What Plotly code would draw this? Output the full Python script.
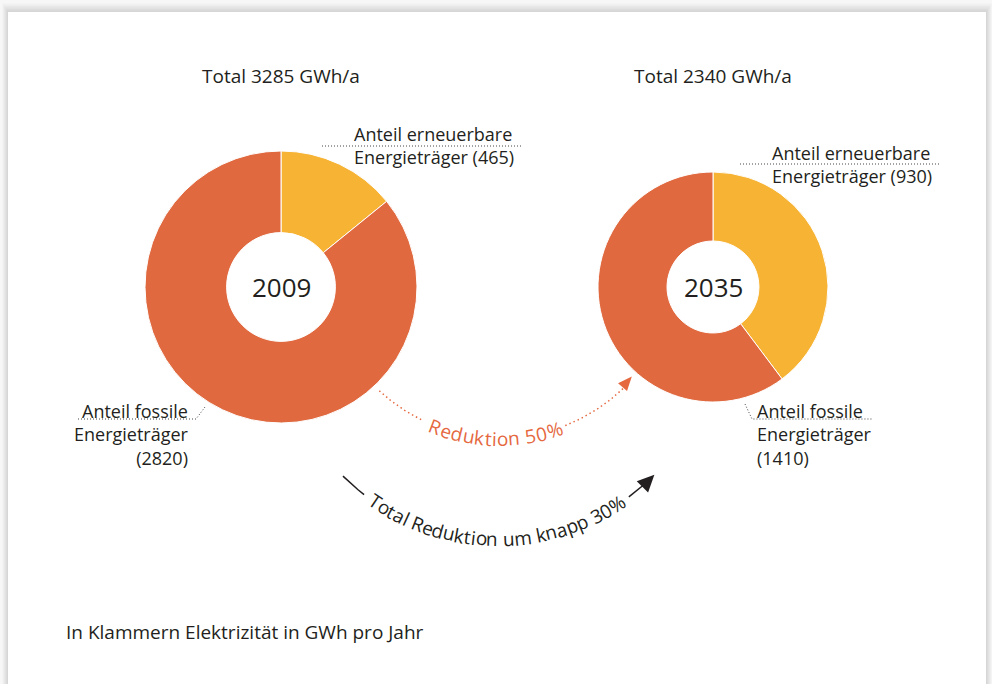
import math
import plotly.graph_objects as go

# ---- data ----
years = ["2009", "2035"]
totals = [3285, 2340]
renewable = [465, 930]
fossil = [2820, 1410]
slice_names = ["Anteil erneuerbare Energieträger", "Anteil fossile Energieträger"]
reduction_fossil_text = "Reduktion 50%"
reduction_total_text = "Total Reduktion um knapp 30%"
footnote = "In Klammern Elektrizität in GWh pro Jahr"

W, H = 992, 684
FONT = "Open Sans"
DARK = "#231f20"
ORANGE = "#E0693F"
YELLOW = "#F7B334"
ARROW_OR = "#E5683F"
FS = 19
LFS = 18

fig = go.Figure()

# ---- donuts ----
donuts = [
    dict(cx=281, cy=287, r=136),
    dict(cx=713, cy=287, r=115),
]
for i, d in enumerate(donuts):
    fig.add_trace(go.Pie(
        values=[renewable[i], fossil[i]],
        labels=slice_names,
        sort=False, direction="clockwise", rotation=0,
        hole=0.40,
        marker=dict(colors=[YELLOW, ORANGE], line=dict(color="white", width=1)),
        textinfo="none", hoverinfo="label+value", showlegend=False,
        domain=dict(x=[(d["cx"] - d["r"]) / W, (d["cx"] + d["r"]) / W],
                    y=[(H - d["cy"] - d["r"]) / H, (H - d["cy"] + d["r"]) / H]),
    ))

ann = []
shapes = []

# ---- frame / shadow ----
greys = ["#f4f4f4", "#eeeeee", "#e8e8e8", "#e2e2e2", "#dcdcdc", "#d6d6d6"]
for k, g in zip(range(6, 0, -1), greys):
    shapes.append(dict(type="rect", xref="x", yref="y", x0=8 - k, x1=986 + k,
                       y0=12 - k * 1.5, y1=H + 5, fillcolor=g, line=dict(width=0), layer="below"))
shapes.append(dict(type="rect", xref="x", yref="y", x0=8, x1=986, y0=12, y1=H + 5,
                   fillcolor="white", line=dict(width=0), layer="below"))

def text(x, y, s, size=FS, color=DARK, xa="center", ya="middle", angle=0, align="center"):
    ann.append(dict(x=x, y=y, xref="x", yref="y", text=s, showarrow=False,
                    xanchor=xa, yanchor=ya, textangle=angle, align=align,
                    font=dict(family=FONT, size=size, color=color)))

# titles and centre labels
for i, d in enumerate(donuts):
    text(d["cx"], 76, f"Total {totals[i]} GWh/a", size=FS)
    text(d["cx"], d["cy"], years[i], size=26)

# slice labels
lead = dict(color="#444444", width=1, dash="1px,2px")
text(352, 145.5, f"Anteil erneuerbare<br>Energieträger ({renewable[0]})",
     size=LFS, xa="left", align="left")
fig.add_trace(go.Scatter(x=[322, 522], y=[146, 146], mode="lines", line=lead,
                         hoverinfo="skip", showlegend=False))

text(770, 164.5, f"Anteil erneuerbare<br>Energieträger ({renewable[1]})",
     size=LFS, xa="left", align="left")
fig.add_trace(go.Scatter(x=[740, 940], y=[164, 164], mode="lines", line=lead,
                         hoverinfo="skip", showlegend=False))

text(191, 434, f"Anteil fossile<br>Energieträger<br>({fossil[0]})",
     size=LFS, xa="right", align="right")
fig.add_trace(go.Scatter(x=[78, 196, 205], y=[419, 419, 407], mode="lines", line=lead,
                         hoverinfo="skip", showlegend=False))

text(755, 434, f"Anteil fossile<br>Energieträger<br>({fossil[1]})",
     size=LFS, xa="left", align="left")
fig.add_trace(go.Scatter(x=[745, 752, 873], y=[404, 419, 419], mode="lines", line=lead,
                         hoverinfo="skip", showlegend=False))

text(64, 632, footnote, xa="left", size=FS)

# ---- curved arrows with text ----
CW = {'T': .56, 'o': .6, 't': .37, 'a': .56, 'l': .26, ' ': .27, 'R': .6, 'e': .56,
      'd': .61, 'u': .61, 'k': .53, 'i': .26, 'n': .61, 'm': .93, 'p': .61,
      '3': .57, '0': .57, '5': .57, '%': .85}

def pt(cx, cy, r, th):
    t = math.radians(th)
    return cx + r * math.sin(t), cy + r * math.cos(t)

def arc(cx, cy, r, t0, t1, n=40):
    xs, ys = [], []
    for j in range(n + 1):
        x, y = pt(cx, cy, r, t0 + (t1 - t0) * j / n)
        xs.append(x); ys.append(y)
    return xs, ys

def curved_text(s, cx, cy, r, t0, t1, size, color):
    ws = [CW.get(c, .56) for c in s]
    tot = sum(ws)
    acc = 0
    for c, w in zip(s, ws):
        f = (acc + w / 2) / tot
        acc += w
        th = t0 + (t1 - t0) * f
        x, y = pt(cx, cy, r, th)
        if c != ' ':
            text(x, y, c, size=size, color=color, angle=-th)

def arrowhead(cx, cy, r, th, L, hw, color):
    tx, ty = pt(cx, cy, r, th)
    t = math.radians(th)
    dx, dy = math.cos(t), -math.sin(t)
    nx, ny = math.sin(t), math.cos(t)
    bx, by = tx - L * dx, ty - L * dy
    p = (f"M {tx},{ty} L {bx + hw * nx},{by + hw * ny} "
         f"L {bx - hw * nx},{by - hw * ny} Z")
    shapes.append(dict(type="path", xref="x", yref="y", path=p,
                       fillcolor=color, line=dict(width=0)))

# orange dotted arc
ocx, ocy, orr = 500, 260, 178
for a0, a1 in [(-42.7, -25.5), (21.5, 44.5)]:
    xs, ys = arc(ocx, ocy, orr, a0, a1)
    fig.add_trace(go.Scatter(x=xs, y=ys, mode="lines", hoverinfo="skip", showlegend=False,
                             line=dict(color=ARROW_OR, width=1.5, dash="1.5px,3px")))
arrowhead(ocx, ocy, orr - 2, 48.5, 14, 6, ARROW_OR)
curved_text(reduction_fossil_text, ocx, ocy, orr + 1, -23.0, 20.5, FS, ARROW_OR)

# black arc
bcx, bcy, brr = 498, 320, 220
for a0, a1 in [(-44.8, -37.5), (36.5, 42.0)]:
    xs, ys = arc(bcx, bcy, brr, a0, a1)
    fig.add_trace(go.Scatter(x=xs, y=ys, mode="lines", hoverinfo="skip", showlegend=False,
                             line=dict(color=DARK, width=1.5)))
arrowhead(bcx, bcy, brr, 45.3, 17, 8, DARK)
curved_text(reduction_total_text, bcx, bcy, brr - 1, -35.5, 35.0, FS, DARK)

fig.update_layout(
    width=W, height=H, margin=dict(l=0, r=0, t=0, b=0),
    paper_bgcolor="#f7f7f7", plot_bgcolor="rgba(0,0,0,0)",
    xaxis=dict(range=[0, W], visible=False, domain=[0, 1], fixedrange=True),
    yaxis=dict(range=[H, 0], visible=False, domain=[0, 1], fixedrange=True),
    annotations=ann, shapes=shapes, showlegend=False,
    font=dict(family=FONT, color=DARK),
)
fig.write_html("out.html", config={"displayModeBar": False},
               post_script="document.body.style.margin='0';document.body.style.overflow='hidden';")
